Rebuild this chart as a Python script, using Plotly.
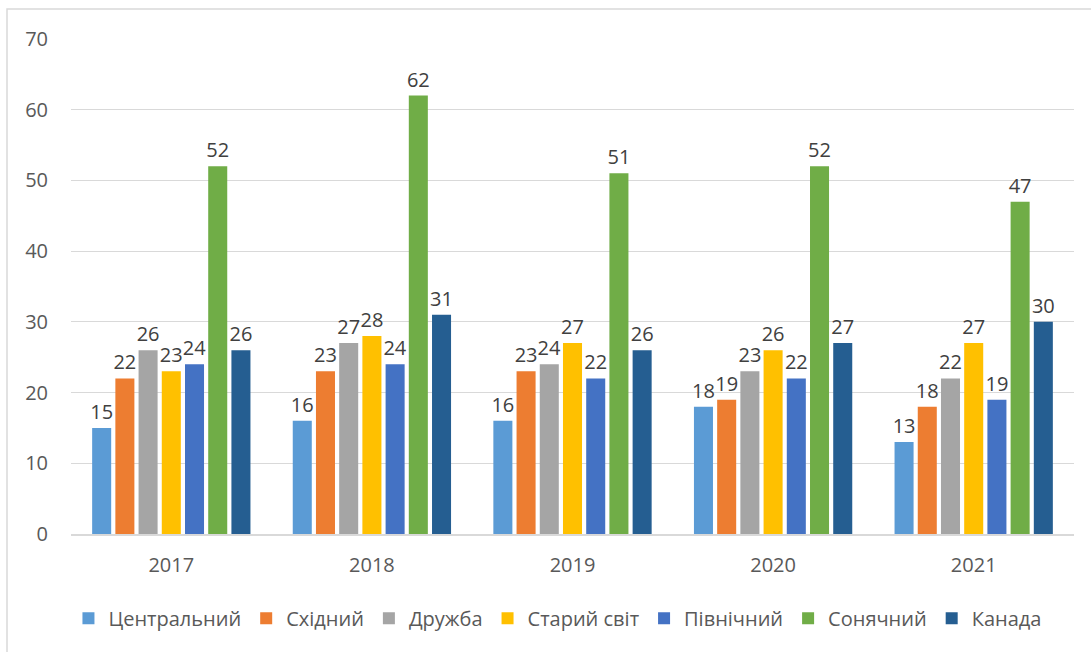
import plotly.graph_objects as go

years = ["2017", "2018", "2019", "2020", "2021"]
series_names = ["Центральний", "Східний", "Дружба", "Старий світ", "Північний", "Сонячний", "Канада"]
tsentralnyi = [15, 16, 16, 18, 13]
skhidnyi = [22, 23, 23, 19, 18]
druzhba = [26, 27, 24, 23, 22]
staryi_svit = [23, 28, 27, 26, 27]
pivnichnyi = [24, 24, 22, 22, 19]
sonyachnyi = [52, 62, 51, 52, 47]
kanada = [26, 31, 26, 27, 30]
colors = ["#5B9BD5", "#ED7D31", "#A5A5A5", "#FFC000", "#4472C4", "#70AD47", "#255E91"]

all_values = [tsentralnyi, skhidnyi, druzhba, staryi_svit, pivnichnyi, sonyachnyi, kanada]

FONT = "Open Sans"
FS = 20
fig = go.Figure()
for name, vals, col in zip(series_names, all_values, colors):
    fig.add_trace(go.Bar(
        x=years, y=vals, name=name, marker_color=col, marker_line_width=0,
        text=vals, textposition="outside", cliponaxis=False, constraintext="none",
        textfont=dict(family=FONT, size=FS, color="#404040"),
    ))

fig.update_layout(
    width=1091, height=652,
    margin=dict(l=71, r=17, t=39, b=118),
    paper_bgcolor="white", plot_bgcolor="white",
    barmode="group", bargap=0.19, bargroupgap=0.18,
    font=dict(family=FONT, size=FS, color="#595959"),
    showlegend=True,
    legend=dict(orientation="h", x=0.485, xanchor="center", y=-0.17, yanchor="middle",
                font=dict(family=FONT, size=FS, color="#595959"),
                itemwidth=30, traceorder="normal"),
    xaxis=dict(showgrid=False, showline=True, linecolor="#d9d9d9", linewidth=1.5,
               ticks="", ticklabelstandoff=12,
               tickfont=dict(family=FONT, size=FS, color="#595959")),
    yaxis=dict(range=[0, 70], dtick=10, showgrid=True, gridcolor="#d9d9d9", gridwidth=1.3,
               zeroline=False, showline=False, ticks="", ticklabelstandoff=22,
               tickfont=dict(family=FONT, size=FS, color="#595959")),
    shapes=[dict(type="rect", xref="paper", yref="paper",
                 x0=-0.0638, x1=1.05, y0=-0.26, y1=1.0606,
                 line=dict(color="#d9d9d9", width=1.5), fillcolor="rgba(0,0,0,0)", layer="below")],
)

fig.write_html("out.html")
